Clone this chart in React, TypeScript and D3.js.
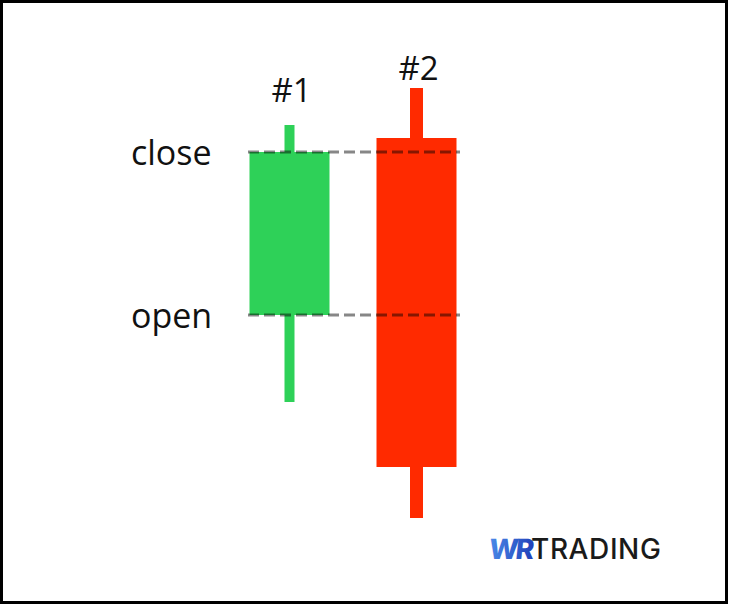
import * as d3 from "d3";

const W = 729;
const H = 604;

// candles, price units (arbitrary)
const names = ["#1", "#2"];
const opens = [102.5, 191];
const closes = [184, 26.5];
const highs = [197.5, 216];
const lows = [59, 1];
const wickWidths = [10, 13];
const labelGap = [23, 8];
const colors = ["#2ed158", "#ff2a00"];

// reference lines taken from candle #1
const refLabels = ["close", "open"];
const refValues = [closes[0], opens[0]];

export default function App() {
  const y = d3.scaleLinear().domain([0, 220]).range([520, 80]);
  const x = d3.scalePoint<string>().domain(names).range([289.5, 416.5]);
  const bodyW = 80;

  const [lineX0, lineX1] = [248, 460];

  return (
    <svg
      width={W}
      height={H}
      style={{ position: "absolute", left: 0, top: 0, background: "#fff" }}
      fontFamily="'Open Sans', 'Noto Sans', sans-serif"
    >
      <defs>
        <linearGradient id="wr" x1="0" x2="1" y1="0" y2="0">
          <stop offset="0" stopColor="#4a8ae8" />
          <stop offset="1" stopColor="#1f3fb8" />
        </linearGradient>
      </defs>
      <rect x={1.5} y={1.5} width={W - 4} height={H - 3} fill="#fff" stroke="#000" strokeWidth={3} />

      {names.map((n, i) => {
        const cx = x(n)!;
        const top = y(Math.max(opens[i], closes[i]));
        const bot = y(Math.min(opens[i], closes[i]));
        return (
          <g key={n}>
            <rect
              x={cx - wickWidths[i] / 2}
              y={y(highs[i])}
              width={wickWidths[i]}
              height={y(lows[i]) - y(highs[i])}
              fill={colors[i]}
            />
            <rect x={cx - bodyW / 2} y={top} width={bodyW} height={bot - top} fill={colors[i]} />
            <text
              x={cx + 2}
              y={y(highs[i]) - labelGap[i]}
              textAnchor="middle"
              fontSize={33}
              fill="#111"
            >
              {n}
            </text>
          </g>
        );
      })}

      {refValues.map((v, i) => (
        <g key={refLabels[i]}>
          <line
            x1={lineX0}
            x2={lineX1}
            y1={y(v)}
            y2={y(v)}
            stroke="#000"
            strokeOpacity={0.47}
            strokeWidth={3}
            strokeDasharray="11 5"
          />
          <text x={131} y={y(v) + 13} fontSize={34} fill="#111">
            {refLabels[i]}
          </text>
        </g>
      ))}

      <g transform="translate(488,559)" fontFamily="Inter, 'Noto Sans', sans-serif">
        <text fontSize={28} fontWeight={800} fill="url(#wr)" letterSpacing={-3} transform="skewX(-6)">
          WR
        </text>
        <text x={43} fontSize={28} fontWeight={500} fill="#1a1a1a" letterSpacing={0.6}>
          TRADING
        </text>
      </g>
    </svg>
  );
}
